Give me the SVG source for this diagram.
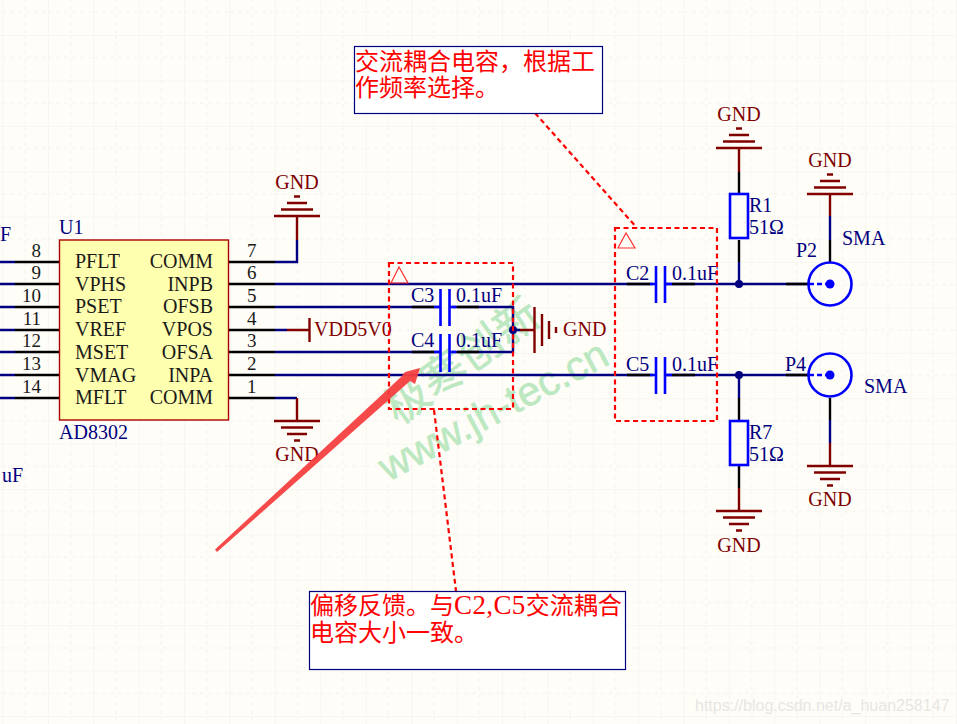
<svg xmlns="http://www.w3.org/2000/svg" width="957" height="724" viewBox="0 0 957 724">
<defs>
<style>
text{font-family:"Liberation Serif","Noto Sans CJK SC",serif}
.t{font-size:20px;fill:#000080}
.k{font-size:20px;fill:#1a1a1a}
.n{font-size:19px;fill:#1a1a1a}
.d{font-size:20px;fill:#800000}
.cn{font-size:24px;fill:#ff0000}
.w{stroke:#000080;stroke-width:2.4;fill:none}
.b{stroke:#000;stroke-width:2.4;fill:none}
.r{stroke:#800000;stroke-width:2.4;fill:none}
.c{stroke:#0000ff;stroke-width:2.6;fill:none}
.dash{stroke:#ff0000;stroke-width:2.2;stroke-dasharray:5 3.5;fill:none}
.wm{fill:#bce8c1;stroke:#bce8c1;stroke-width:0.6}
</style>
<g id="gndUp"><path class="r" d="M-23 0H23M-16 -6.500H16M-10 -13H10M-3 -19.500H3"/></g>
<g id="gndDown"><path class="r" d="M-23 0H23M-16 6.500H16M-10 13H10M-3 19.500H3"/></g>
<pattern id="gridMajor" width="45.400" height="45.400" patternUnits="userSpaceOnUse" x="2.500" y="35"><path d="M0 0V45.400M0 0H45.400" fill="none" stroke="#f1f0ea" stroke-width="1.200"/><path d="M22.700 0V45.400M0 22.700H45.400" fill="none" stroke="#f3f2ec" stroke-width="1" stroke-dasharray="4 4"/></pattern>
</defs>
<rect id="background" width="957" height="724" fill="#fffdf8"/>
<rect id="grid" width="957" height="724" fill="url(#gridMajor)"/>

<g id="watermark">
<text class="wm" font-size="44" letter-spacing="1" transform="translate(398.500 426) rotate(-36)">极寒创新</text>
<text class="wm" font-size="41" style="font-family:'Liberation Sans',sans-serif" transform="translate(388 482) rotate(-28)">www.jh-tec.cn</text>
</g>

<g id="connectors">
<path class="w" d="M0 262H15M0 284H15M0 307H15M0 330H15M0 352H15M0 375H15M0 398H15"/>
<path class="b" d="M15 262H59M15 284H59M15 307H59M15 330H59M15 352H59M15 375H59M15 398H59"/>
<path class="b" d="M228 262H275M228 284H275M228 307H275M228 330H275M228 352H275M228 375H275M228 398H275"/>
<path class="w" d="M275 262H297V240M275 398H297M275 330H287"/>
<path class="r" d="M297 240V216M297 398V421"/>
<path class="w" d="M275 284H653M275 307H440M275 352H440M275 375H653"/>
<path class="w" d="M452 307H513V352H452M513 330H520"/>
<path class="b" d="M412 307H434M457 307H479M412 352H434M457 352H479"/>
<path class="r" d="M520 330H534M287 330H309"/>
<path class="w" d="M666 284H808M666 375H808"/>
<path class="b" d="M627 284H650M672 284H695M786 284H808M627 375H650M672 375H695M786 375H808"/>
<path class="b" d="M739 172V194M739 240V262"/>
<path class="w" d="M739 262V284M739 375V398"/>
<path class="b" d="M739 398V421M739 466V488"/>
<path class="r" d="M739 148V172M739 488V511"/>
<path class="r" d="M830 195V216"/>
<path class="w" d="M830 216V240"/>
<path class="b" d="M830 240V263M830 398V420"/>
<path class="w" d="M830 420V443"/>
<path class="r" d="M830 443V466"/>
<circle cx="513" cy="330" r="4" fill="#000080"/>
<circle cx="739" cy="284" r="4" fill="#000080"/>
<circle cx="739" cy="375" r="4" fill="#000080"/>
</g>

<g id="U1">
<rect x="59.500" y="240" width="169" height="180" fill="#ffffb0" stroke="#aa0000" stroke-width="1.400"/>
<text class="t" x="59" y="234">U1</text>
<text class="t" x="59" y="439">AD8302</text>
<text class="k" x="75" y="268">PFLT</text><text class="k" x="75" y="291">VPHS</text><text class="k" x="75" y="313">PSET</text><text class="k" x="75" y="336">VREF</text><text class="k" x="75" y="359">MSET</text><text class="k" x="75" y="382">VMAG</text><text class="k" x="75" y="404">MFLT</text>
<text class="k" x="213" y="268" text-anchor="end">COMM</text><text class="k" x="213" y="291" text-anchor="end">INPB</text><text class="k" x="213" y="313" text-anchor="end">OFSB</text><text class="k" x="213" y="336" text-anchor="end">VPOS</text><text class="k" x="213" y="359" text-anchor="end">OFSA</text><text class="k" x="213" y="382" text-anchor="end">INPA</text><text class="k" x="213" y="404" text-anchor="end">COMM</text>
<text class="n" x="41" y="257" text-anchor="end">8</text><text class="n" x="41" y="279" text-anchor="end">9</text><text class="n" x="41" y="302" text-anchor="end">10</text><text class="n" x="41" y="325" text-anchor="end">11</text><text class="n" x="41" y="347" text-anchor="end">12</text><text class="n" x="41" y="370" text-anchor="end">13</text><text class="n" x="41" y="393" text-anchor="end">14</text>
<text class="n" x="247" y="257">7</text><text class="n" x="247" y="279">6</text><text class="n" x="247" y="302">5</text><text class="n" x="247" y="325">4</text><text class="n" x="247" y="347">3</text><text class="n" x="247" y="370">2</text><text class="n" x="247" y="393">1</text>
</g>
<g id="offpage-labels">
<text class="t" x="0" y="241">F</text>
<text class="t" x="2" y="482">uF</text>
</g>

<g id="GND-U1-7"><use href="#gndUp" x="297" y="216"/><text class="d" x="297" y="189" text-anchor="middle">GND</text></g>
<g id="GND-U1-1"><use href="#gndDown" x="297" y="421"/><text class="d" x="297" y="461" text-anchor="middle">GND</text></g>
<g id="VDD5V0"><path class="r" d="M309.500 318V342"/><text class="d" x="314" y="336">VDD5V0</text></g>
<g id="GND-offset"><path class="r" d="M534.500 307V353M542 314V346M549 321V339M556 327V333"/><text class="d" x="563" y="336">GND</text></g>

<g id="C3"><path class="c" d="M440.500 289V326M449.500 289V326M434 307H440M449 307H456"/><text class="t" x="411" y="302">C3</text><text class="t" x="456" y="302">0.1uF</text></g>
<g id="C4"><path class="c" d="M440.500 334V372M449.500 334V372M434 352H440M449 352H456"/><text class="t" x="411" y="347">C4</text><text class="t" x="456" y="347">0.1uF</text></g>
<g id="C2"><path class="c" d="M656 266V303M665 266V303M650 284H656M665 284H672"/><text class="t" x="626" y="280">C2</text><text class="t" x="672" y="280">0.1uF</text></g>
<g id="C5"><path class="c" d="M656 357V394M665 357V394M650 375H656M665 375H672"/><text class="t" x="626" y="371">C5</text><text class="t" x="672" y="371">0.1uF</text></g>

<g id="R1"><rect class="c" x="730" y="194" width="18" height="44"/><text class="t" x="749" y="212">R1</text><text class="t" x="749" y="234">51Ω</text></g>
<g id="R7"><rect class="c" x="730" y="421" width="18" height="44"/><text class="t" x="749" y="439">R7</text><text class="t" x="749" y="461">51Ω</text></g>

<g id="GND-R1"><use href="#gndUp" x="739" y="148"/><text class="d" x="739" y="121" text-anchor="middle">GND</text></g>
<g id="GND-R7"><use href="#gndDown" x="739" y="511"/><text class="d" x="739" y="552" text-anchor="middle">GND</text></g>
<g id="GND-P2"><use href="#gndUp" x="830" y="194"/><text class="d" x="830" y="167" text-anchor="middle">GND</text></g>
<g id="GND-P4"><use href="#gndDown" x="830" y="466"/><text class="d" x="830" y="506" text-anchor="middle">GND</text></g>

<g id="P2"><circle class="c" cx="830" cy="284" r="21.500"/><circle cx="830" cy="284" r="4.500" fill="#0000ff"/><path class="c" d="M809 284H826" stroke-dasharray="5 3"/><text class="t" x="796" y="257">P2</text><text class="t" x="842" y="245">SMA</text></g>
<g id="P4"><circle class="c" cx="830" cy="375" r="21.500"/><circle cx="830" cy="375" r="4.500" fill="#0000ff"/><path class="c" d="M809 375H826" stroke-dasharray="5 3"/><text class="t" x="785" y="371">P4</text><text class="t" x="864" y="393">SMA</text></g>

<g id="annotation-region-left"><rect class="dash" x="389" y="263" width="124" height="146"/><path d="M391 283L399 267L408 283Z" fill="none" stroke="#ff3030" stroke-width="1.200"/></g>
<g id="annotation-region-right"><rect class="dash" x="615" y="228" width="102" height="193"/><path d="M618 248L626 233L635 248Z" fill="none" stroke="#ff3030" stroke-width="1.200"/></g>
<g id="annotation-leaders"><path class="dash" d="M535 113L637 228"/><path class="dash" d="M434 410L456 591"/></g>

<g id="arrow"><path d="M215 549.500L401 377L405 372L420 368L415 384L410 381L217 552Z" fill="#f63f3f" opacity="0.950"/></g>

<g id="note-top"><rect x="354.500" y="46.500" width="248" height="67" fill="#fff" stroke="#000080" stroke-width="1.200"/><text class="cn" x="355" y="70">交流耦合电容，根据工</text><text class="cn" x="355" y="96">作频率选择。</text></g>
<g id="note-bottom"><rect x="309.500" y="591.500" width="316" height="78" fill="#fff" stroke="#000080" stroke-width="1.200"/><text class="cn" x="310" y="614">偏移反馈。与<tspan font-size="27" letter-spacing="0.400">C2,C5</tspan>交流耦合</text><text class="cn" x="310" y="641">电容大小一致。</text></g>

<text id="credit" x="695" y="711" font-size="16" style="font-family:'Liberation Sans',sans-serif" fill="#e8e6e2">https://blog.csdn.net/a_huan258147</text>
</svg>
